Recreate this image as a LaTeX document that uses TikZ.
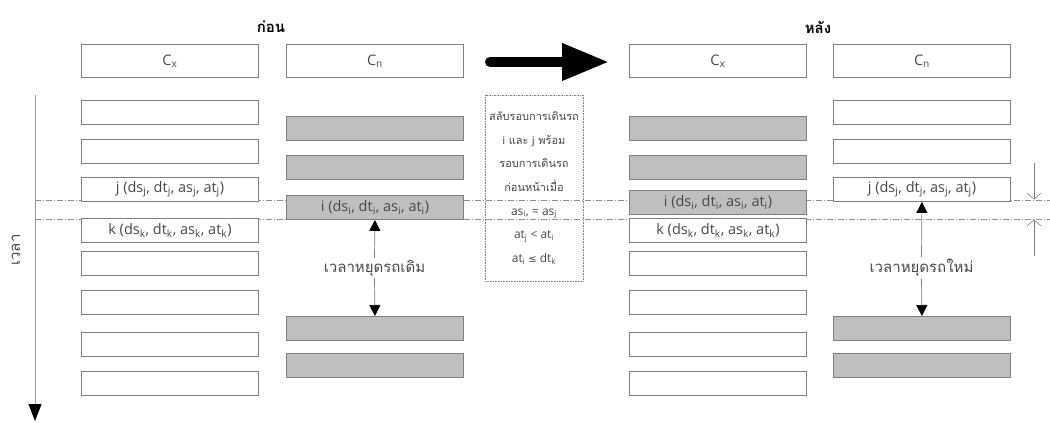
\documentclass[tikz,border=0pt]{standalone}
\usepackage{fontspec}
\setmainfont{Open Sans}
\newfontfamily\thai[Script=Thai]{Loma}
\usetikzlibrary{arrows.meta}
\definecolor{txt}{HTML}{484848}
\definecolor{bord}{HTML}{7F7F7F}
\definecolor{gfill}{HTML}{BFBFBF}
\definecolor{dline}{HTML}{909090}
\newcommand{\sbs}[1]{\textsubscript{#1}}
\begin{document}
\begin{tikzpicture}[x=1pt,y=-1pt,
  box/.style={draw=bord, line width=0.9pt, minimum width=177pt, minimum height=24pt,
    inner sep=0pt, anchor=north west, font=\fontsize{14.5}{16}\selectfont, text=txt},
  wbox/.style={box, fill=white},
  gbox/.style={box, fill=gfill},
  hbox/.style={box, fill=white, minimum height=33pt},
  title/.style={font=\thai\bfseries\fontsize{15}{17}\selectfont, text=black},
  thlabel/.style={font=\thai\fontsize{15}{17}\selectfont, text=txt, inner sep=2pt},
  guide/.style={draw=dline, line width=0.8pt, dash pattern=on 6pt off 2pt on 1pt off 2pt},
  stoparrow/.style={draw=gray, line width=0.7pt, -{Triangle[length=11pt,width=11pt,color=black]}},
  barb/.style={draw=gray, line width=0.6pt, -{Straight Barb[length=6pt,width=14pt]}}
]
\useasboundingbox (0,0) rectangle (1050,423);

% guide lines (behind boxes)
\coordinate (g1a) at (35,200); \coordinate (g1b) at (1050,200);
\coordinate (g2a) at (35,219); \coordinate (g2b) at (1050,219);
\draw[guide] (g1a) -- (g1b);
\draw[guide] (g2a) -- (g2b);

% titles
\node[title] (before) at (271,27) {ก่อน};
\node[title] (after) at (818,27) {หลัง};

% headers
\node[hbox] (hCxL) at (81,44) {C\sbs{x}};
\node[hbox] (hCnL) at (286,44) {C\sbs{n}};
\node[hbox] (hCxR) at (629,44) {C\sbs{x}};
\node[hbox] (hCnR) at (833,44) {C\sbs{n}};

% big arrow
\coordinate (bigA) at (490,62);
\coordinate (bigB) at (609,62);
\draw[line width=10pt, line cap=round, -{Triangle[length=47pt,width=35pt]}] (bigA) -- (bigB);

% left Cx (before)
\node[wbox] (lx1) at (81,100) {};
\node[wbox] (lx2) at (81,139) {};
\node[wbox] (lxj) at (81,177) {j (ds\sbs{j}, dt\sbs{j}, as\sbs{j}, at\sbs{j})};
\node[wbox] (lxk) at (81,218) {k (ds\sbs{k}, dt\sbs{k}, as\sbs{k}, at\sbs{k})};
\node[wbox] (lx5) at (81,251) {};
\node[wbox] (lx6) at (81,290) {};
\node[wbox] (lx7) at (81,332) {};
\node[wbox] (lx8) at (81,371) {};

% left Cn (before)
\node[gbox] (ln1) at (286,116) {};
\node[gbox] (ln2) at (286,155) {};
\node[gbox] (lni) at (286,195) {i (ds\sbs{i}, dt\sbs{i}, as\sbs{i}, at\sbs{i})};
\node[gbox] (ln4) at (286,316) {};
\node[gbox] (ln5) at (286,353) {};

% right Cx (after)
\node[gbox] (rx1) at (629,116) {};
\node[gbox] (rx2) at (629,155) {};
\node[gbox] (rxi) at (629,190) {i (ds\sbs{i}, dt\sbs{i}, as\sbs{i}, at\sbs{i})};
\node[wbox] (rxk) at (629,218) {k (ds\sbs{k}, dt\sbs{k}, as\sbs{k}, at\sbs{k})};
\node[wbox] (rx5) at (629,251) {};
\node[wbox] (rx6) at (629,290) {};
\node[wbox] (rx7) at (629,332) {};
\node[wbox] (rx8) at (629,371) {};

% right Cn (after)
\node[wbox] (rn1) at (833,100) {};
\node[wbox] (rn2) at (833,139) {};
\node[wbox] (rnj) at (833,177) {j (ds\sbs{j}, dt\sbs{j}, as\sbs{j}, at\sbs{j})};
\node[gbox] (rn4) at (833,316) {};
\node[gbox] (rn5) at (833,353) {};

% condition box
\node[draw=gray, densely dotted, line width=0.6pt, minimum width=98pt, minimum height=186pt,
  inner sep=0pt, text=txt, align=center, font=\fontsize{12}{23.6}\selectfont] (cond) at (534,188)
  {{\thai\fontsize{11}{23.6}\selectfont สลับรอบการเดินรถ}\\{\thai\fontsize{11}{23.6}\selectfont i และ j พร้อม}\\{\thai\fontsize{11}{23.6}\selectfont รอบการเดินรถ}\\{\thai\fontsize{11}{23.6}\selectfont ก่อนหน้าเมื่อ}\\
   as\sbs{i}, = as\sbs{j}\\at\sbs{j} < at\sbs{i}\\at\sbs{i} {\fontspec{DejaVu Sans}\fontsize{10}{12}\selectfont ≤} dt\sbs{k}};

% stop time labels and arrows
\node[thlabel] (oldstop) at (374.5,268) {เวลาหยุดรถเดิม};
\draw[stoparrow] (oldstop.north) -- (lni.south);
\draw[stoparrow] (oldstop.south) -- (ln4.north);
\node[thlabel] (newstop) at (921.5,268) {เวลาหยุดรถใหม่};
\draw[stoparrow] (newstop.north) -- (rnj.south);
\draw[stoparrow] (newstop.south) -- (rn4.north);

% side barbs
\coordinate (b1a) at (1034,163); \coordinate (b1b) at (1034,199.5);
\coordinate (b2a) at (1034,256); \coordinate (b2b) at (1034,219.5);
\draw[barb] (b1a) -- (b1b);
\draw[barb] (b2a) -- (b2b);

% time axis
\coordinate (t0) at (35,95); \coordinate (t1) at (35,421);
\draw[draw=gray!80, line width=1pt, -{Triangle[length=17pt,width=13pt,color=black]}] (t0) -- (t1);
\node[thlabel, rotate=90] (timelbl) at (16,250) {เวลา};
\end{tikzpicture}
\end{document}
